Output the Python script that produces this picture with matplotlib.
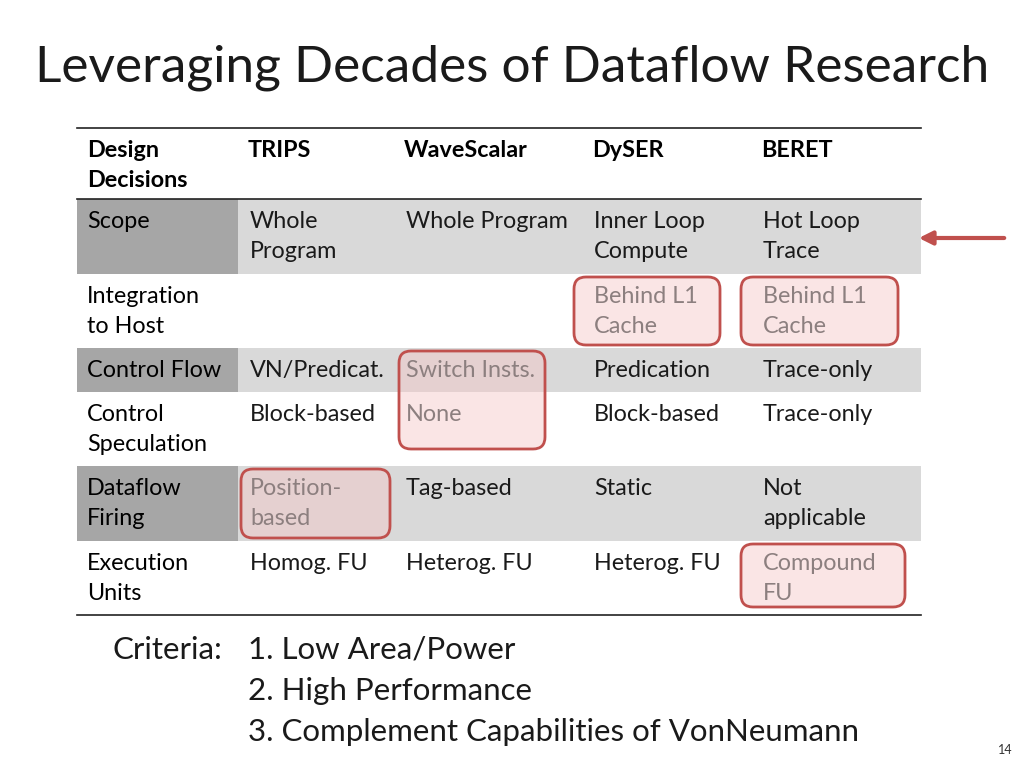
import matplotlib
matplotlib.use("Agg")
from matplotlib import pyplot as plt
from matplotlib.patches import Rectangle, FancyBboxPatch

plt.rcParams["font.family"] = "Lato"

title = "Leveraging Decades of Dataflow Research"
header = ["Design\nDecisions", "TRIPS", "WaveScalar", "DySER", "BERET"]
row_labels = ["Scope", "Integration\nto Host", "Control Flow", "Control\nSpeculation",
              "Dataflow\nFiring", "Execution\nUnits"]
cells = [
    ["Whole\nProgram", "Whole Program", "Inner Loop\nCompute", "Hot Loop\nTrace"],
    ["", "", "Behind L1\nCache", "Behind L1\nCache"],
    ["VN/Predicat.", "Switch Insts.", "Predication", "Trace-only"],
    ["Block-based", "None", "Block-based", "Trace-only"],
    ["Position-\nbased", "Tag-based", "Static", "Not\napplicable"],
    ["Homog. FU", "Heterog. FU", "Heterog. FU", "Compound\nFU"],
]
shaded = [True, False, True, False, True, False]
# (row, col, rows spanned) of highlighted cells
highlights = [(1, 2, 1), (1, 3, 1), (2, 1, 2), (4, 0, 1), (5, 3, 1)]
criteria = ["1. Low Area/Power", "2. High Performance", "3. Complement Capabilities of VonNeumann"]

# geometry (pixels)
col_x = [77, 238, 394, 582, 751, 921]
row_y = [128, 199, 274, 348, 392, 466, 541, 615]
box_left = {0: 3, 1: 5, 2: -8, 3: -10}
box_width = {(1, 2): 146, (1, 3): 157, (2, 1): 146, (4, 0): 149, (5, 3): 164}
box_bottom = {(1, 2): 345, (1, 3): 345, (2, 1): 449, (4, 0): 538, (5, 3): 607}

fig = plt.figure(figsize=(10.24, 7.68), dpi=100)
ax = fig.add_axes([0, 0, 1, 1])
ax.set_xlim(0, 1024)
ax.set_ylim(768, 0)
ax.axis("off")

ax.text(512, 68, title, fontsize=37, ha="center", va="center", color="#1a1a1a")

hl = {(r, c) for r, c, s in highlights} | {(r + 1, c) for r, c, s in highlights if s == 2}

fs = 16.8
ls = 1.55
for j, h in enumerate(header):
    ax.text(col_x[j] + 10, row_y[0] + 12, h, fontsize=fs, fontweight="bold",
            va="top", ha="left", linespacing=ls)

for i, lab in enumerate(row_labels):
    y0, y1 = row_y[i + 1], row_y[i + 2]
    if shaded[i]:
        ax.add_patch(Rectangle((col_x[0], y0), col_x[1] - col_x[0], y1 - y0, color="#a6a6a6", lw=0))
        ax.add_patch(Rectangle((col_x[1], y0), col_x[-1] - col_x[1], y1 - y0, color="#d9d9d9", lw=0))
    ax.text(col_x[0] + 10, y0 + 12, lab, fontsize=fs, va="top", ha="left", linespacing=ls)
    for j, c in enumerate(cells[i]):
        color = "#8c7f7f" if (i, j) in hl else "#1a1a1a"
        ax.text(col_x[j + 1] + 12, y0 + 12, c, fontsize=fs, va="top", ha="left",
                linespacing=ls, color=color)

for y in (row_y[0], row_y[1], row_y[-1]):
    ax.plot([col_x[0], col_x[-1]], [y, y], color="#222222", lw=1.2)

for r, c, span in highlights:
    x0 = col_x[c + 1] + box_left[c]
    y0 = row_y[r + 1] + 3
    w = box_width[(r, c)]
    h = box_bottom[(r, c)] - y0
    ax.add_patch(FancyBboxPatch((x0, y0), w, h,
                                boxstyle="round,pad=0,rounding_size=12",
                                facecolor="#f4c7c6", alpha=0.45, edgecolor="none"))
    ax.add_patch(FancyBboxPatch((x0, y0), w, h,
                                boxstyle="round,pad=0,rounding_size=12",
                                facecolor="none", edgecolor="#c0504d", lw=2))

ax.annotate("", xy=(916, 238), xytext=(1007, 238),
            arrowprops=dict(arrowstyle="-|>,head_length=0.8,head_width=0.4",
                            color="#c0504d", lw=3))

ax.text(113, 650, "Criteria:", fontsize=22.5, va="center", ha="left", color="#1a1a1a")
for k, t in enumerate(criteria):
    ax.text(248, 650 + 41 * k, t, fontsize=22.5, va="center", ha="left", color="#1a1a1a")

ax.text(1005, 750, "14", fontsize=9, ha="center", va="center", color="#333333")

fig.savefig("out.png", dpi=100)
